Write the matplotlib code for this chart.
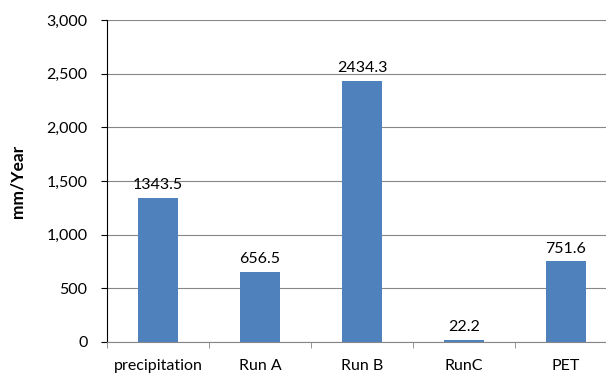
import matplotlib.pyplot as plt
from matplotlib.ticker import FuncFormatter, MultipleLocator

# annual water balance terms (mm/year)
categories = ["precipitation", "Run A", "Run B", "RunC", "PET"]
values = [1343.5, 656.5, 2434.3, 22.2, 751.6]

plt.rcParams["font.family"] = ["Lato", "DejaVu Sans"]

fig = plt.figure(figsize=(6.06, 3.74), dpi=100)
# plot area runs a little past the right edge of the figure
ax = fig.add_axes([0.1766, 0.0856, 0.8414, 0.861])

pos = list(range(len(categories)))
bars = ax.bar(pos, values, width=0.4, color="#4F81BD", zorder=3)

for b, v in zip(bars, values):
    ax.annotate(f"{v:.1f}", (b.get_x() + b.get_width() / 2, v),
                xytext=(0, 4), textcoords="offset points",
                ha="center", va="bottom", fontsize=11.5)

ax.set_xlim(-0.5, len(categories) - 0.5)
ax.set_ylim(0, 3000)
ax.yaxis.set_major_locator(MultipleLocator(500))
ax.yaxis.set_major_formatter(FuncFormatter(lambda y, _: f"{y:,.0f}"))
ax.grid(axis="y", color="#868686", linewidth=0.8, zorder=0)

ax.set_xticks(pos)
ax.set_xticklabels(categories)
ax.set_xticks([p - 0.5 for p in pos] + [len(pos) - 0.5], minor=True)
ax.tick_params(axis="x", which="major", length=0, pad=12, labelsize=11.5)
ax.tick_params(axis="x", which="minor", length=4, color="#868686")
ax.tick_params(axis="y", length=4, labelsize=11.5, pad=10)

ax.spines["top"].set_visible(False)
ax.spines["right"].set_visible(False)
ax.spines["bottom"].set_color("#868686")
ax.spines["left"].set_color("black")

ax.set_ylabel("mm/Year", fontweight="bold", fontsize=12.5, labelpad=15)

fig.savefig("out.png", dpi=100)
